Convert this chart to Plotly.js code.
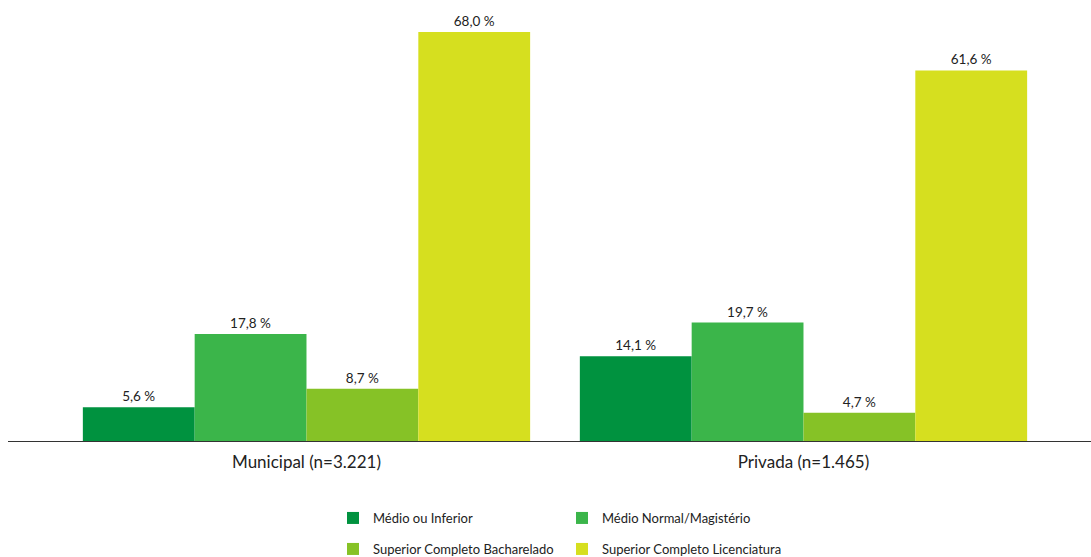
<!DOCTYPE html>
<html>
<head>
<meta charset="utf-8">
<script src="https://cdn.plot.ly/plotly-3.0.1.min.js"></script>
<style>html,body{margin:0;padding:0;background:#fff;}#chart{width:1091px;height:557px;}</style>
</head>
<body>
<div id="chart"></div>
<script>
const categories = ["Municipal (n=3.221)", "Privada (n=1.465)"];
const seriesNames = ["Médio ou Inferior", "Médio Normal/Magistério", "Superior Completo Bacharelado", "Superior Completo Licenciatura"];
const medioInferior = [5.6, 14.1];
const medioNormal = [17.8, 19.7];
const superiorBacharelado = [8.7, 4.7];
const superiorLicenciatura = [68.0, 61.6];
const colors = ["#00923F", "#3BB54A", "#86C226", "#D6DF1F"];

const seriesValues = [medioInferior, medioNormal, superiorBacharelado, superiorLicenciatura];
const legendIds = ["legend", "legend", "legend2", "legend2"];
const fmt = v => v.toFixed(1).replace('.', ',') + ' %';
const FONT = 'Lato, "Open Sans", sans-serif';

const data = seriesValues.map((vals, i) => ({
  type: 'bar',
  name: seriesNames[i],
  x: categories,
  y: vals,
  text: vals.map(fmt),
  textposition: 'outside',
  cliponaxis: false,
  textfont: {family: FONT, size: 13.5, color: '#222'},
  marker: {color: colors[i]},
  legend: legendIds[i],
  hoverinfo: 'skip'
}));

const legendBase = {
  orientation: 'h',
  xref: 'container', yref: 'container',
  xanchor: 'left', yanchor: 'middle',
  entrywidth: 184, entrywidthmode: 'pixels',
  font: {family: FONT, size: 13, color: '#222'},
  bgcolor: 'rgba(0,0,0,0)',
  traceorder: 'normal'
};

const layout = {
  width: 1091, height: 557,
  margin: {l: 8, r: 0, t: 0, b: 116},
  paper_bgcolor: '#fff', plot_bgcolor: '#fff',
  barmode: 'group', bargap: 0.1, bargroupgap: 0,
  font: {family: FONT, color: '#222'},
  xaxis: {
    type: 'category',
    range: [-0.6006, 1.5785],
    showline: true, linecolor: '#333', linewidth: 1,
    ticks: '', showgrid: false, zeroline: false,
    tickfont: {family: FONT, size: 17, color: '#222'},
    ticklabelstandoff: 6
  },
  yaxis: {
    range: [0, 73.32],
    visible: false, showgrid: false, zeroline: false
  },
  showlegend: true,
  legend: Object.assign({}, legendBase, {x: 333/1091, y: 1 - 518/557}),
  legend2: Object.assign({}, legendBase, {x: 333/1091, y: 1 - 549/557})
};

Plotly.newPlot('chart', data, layout, {displayModeBar: false, staticPlot: true});
</script>
</body>
</html>
